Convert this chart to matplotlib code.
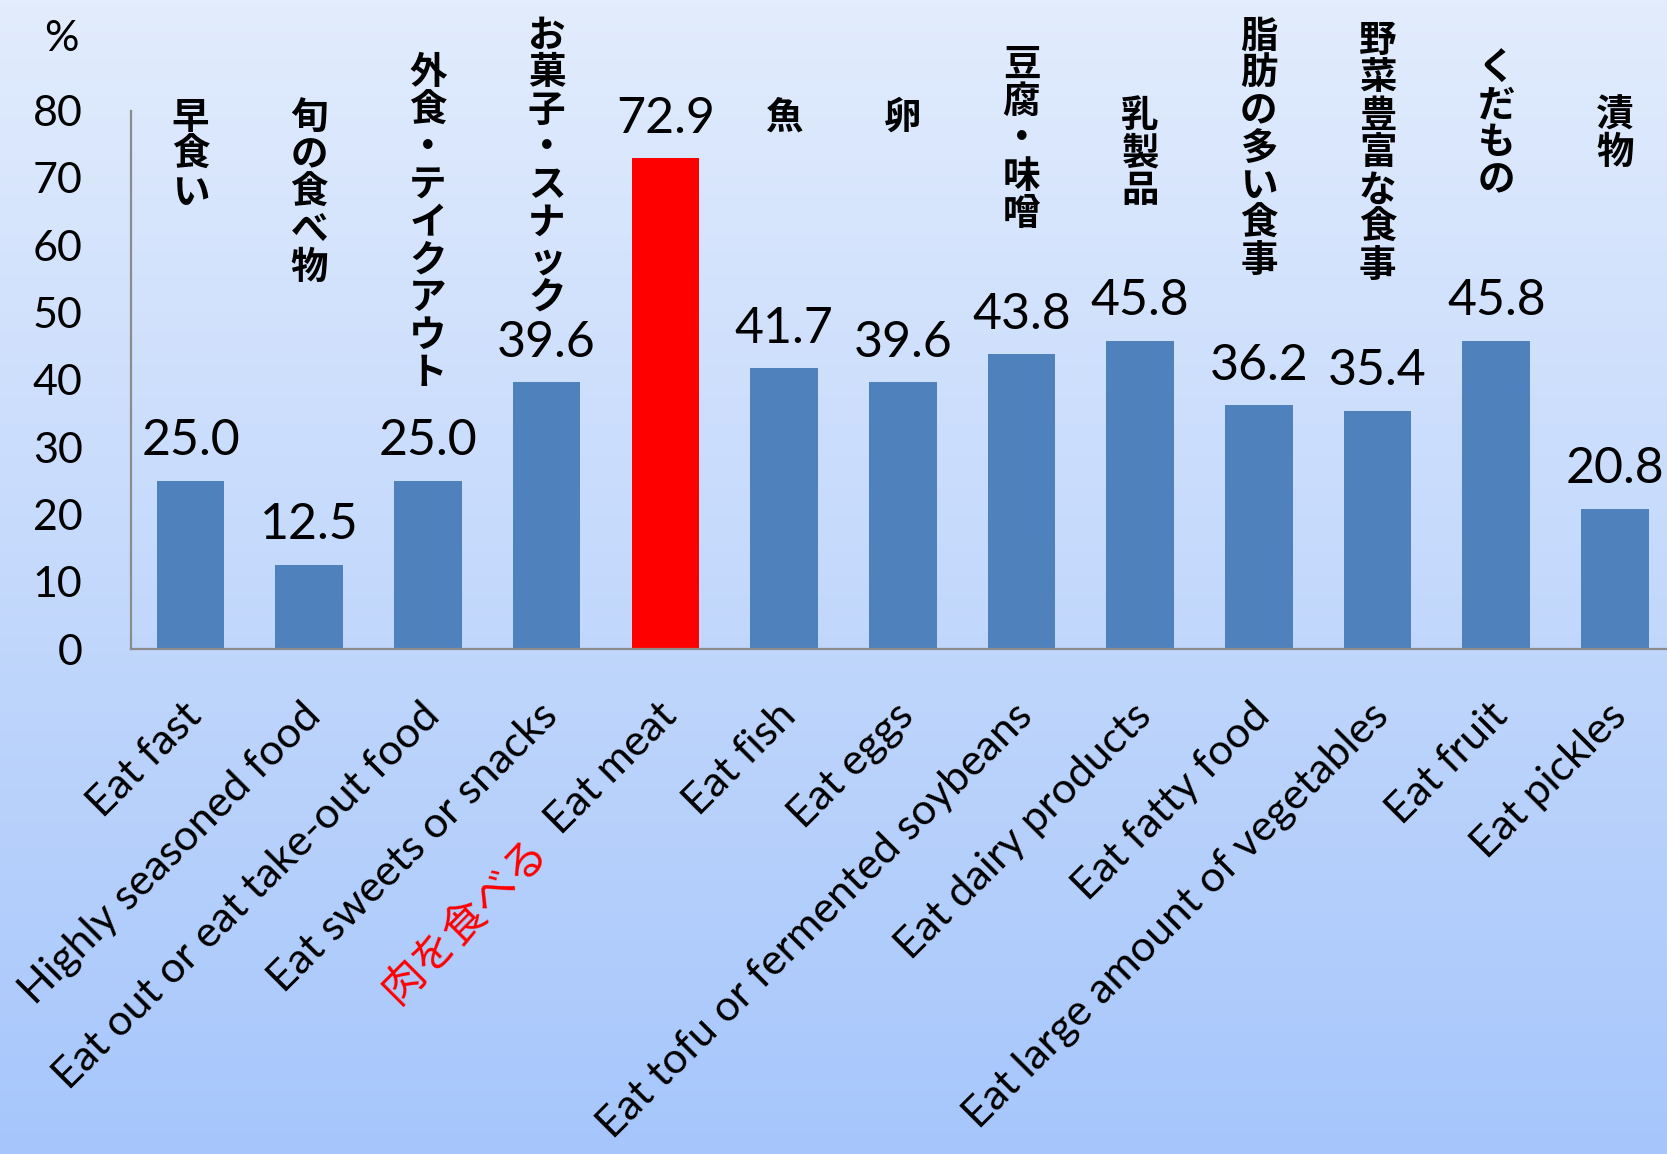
import numpy as np
import matplotlib
matplotlib.use('Agg')
import matplotlib.pyplot as plt
from matplotlib.transforms import ScaledTranslation

plt.rcParams['font.family'] = ['Lato', 'Noto Sans CJK JP', 'DejaVu Sans']

# data
labels_en = ['Eat fast', 'Highly seasoned food', 'Eat out or eat take-out food',
             'Eat sweets or snacks', 'Eat meat', 'Eat fish', 'Eat eggs',
             'Eat tofu or fermented soybeans', 'Eat dairy products', 'Eat fatty food',
             'Eat large amount of vegetables', 'Eat fruit', 'Eat pickles']
labels_jp = ['早食い', '旬の食べ物', '外食・テイクアウト', 'お菓子・スナック', '', '魚', '卵',
             '豆腐・味噌', '乳製品', '脂肪の多い食事', '野菜豊富な食事', 'くだもの', '漬物']
values = [25.0, 12.5, 25.0, 39.6, 72.9, 41.7, 39.6, 43.8, 45.8, 36.2, 35.4, 45.8, 20.8]
highlight = 'Eat meat'
highlight_jp = '肉を食べる'
yticks = [0, 10, 20, 30, 40, 50, 60, 70, 80]

# top of each vertical japanese label (y units)
jp_top = [81.9, 81.9, 88.5, 94.1, 0, 81.9, 81.9, 89.8, 82.2, 94.0, 93.3, 89.3, 82.2]

BLUE = '#4F81BD'
RED = '#FF0000'

fig = plt.figure(figsize=(16.67, 11.54), dpi=100)

# gradient background
bg = fig.add_axes([0, 0, 1, 1], zorder=-10)
top_c = np.array([226, 236, 253]) / 255
bot_c = np.array([166, 198, 251]) / 255
t = np.linspace(0, 1, 256)[:, None]
grad = top_c[None, :] * (1 - t) + bot_c[None, :] * t
bg.imshow(grad[:, None, :], aspect='auto', extent=(0, 1, 0, 1))
bg.axis('off')

ax = fig.add_axes([0.0787, 0.4376, 0.9257, 0.4666])
ax.patch.set_alpha(0)

x = np.arange(len(values))
colors = [RED if l == highlight else BLUE for l in labels_en]
bars = ax.bar(x, values, width=0.57, color=colors, zorder=2)

ax.set_xlim(-0.5, len(values) - 0.5)
ax.set_ylim(0, 80)
ax.set_yticks(yticks)
ax.tick_params(axis='y', length=0, pad=35, labelsize=31)
ax.tick_params(axis='x', length=0, pad=34)
for s in ['top', 'right']:
    ax.spines[s].set_visible(False)
for s in ['left', 'bottom']:
    ax.spines[s].set_color('#8C8C8C')
    ax.spines[s].set_linewidth(1.6)

XFS = 31
XOFF = -6  # points
ax.set_xticks(x)
ax.set_xticklabels(labels_en, fontsize=XFS, rotation=45, ha='right', va='top',
                   rotation_mode='anchor')
dx = ScaledTranslation(XOFF / 72, 0, fig.dpi_scale_trans)
for lab in ax.get_xticklabels():
    lab.set_transform(lab.get_transform() + dx)

# value labels
for xi, v in zip(x, values):
    ax.annotate(f'{v:.1f}', (xi, v), xytext=(0, 12), textcoords='offset points',
                ha='center', va='bottom', fontsize=36, clip_on=False)

# vertical japanese labels
for xi, jp, top in zip(x, labels_jp, jp_top):
    if jp:
        ax.text(xi, top, '\n'.join(jp), ha='center', va='top', fontsize=27,
                fontweight='bold', family=['Noto Sans CJK JP'], linespacing=0.95,
                clip_on=False)

# red japanese label in front of "Eat meat"
tmp = fig.text(0, 0, highlight, fontsize=XFS)
fig.canvas.draw()
w = tmp.get_window_extent().width * 72 / fig.dpi
tmp.remove()
gap = 14
off = (w + gap) / np.sqrt(2)
ax.annotate(highlight_jp, (labels_en.index(highlight), 0), xycoords=('data', 'axes fraction'),
            xytext=(XOFF - off, -34 - off), textcoords='offset points', rotation=45,
            rotation_mode='anchor', ha='right', va='top', fontsize=XFS, color=RED,
            family=['Noto Sans CJK JP'], annotation_clip=False)

fig.text(0.037, 0.966, '%', fontsize=31, ha='center', va='center')

fig.savefig('out.png', dpi=100)
